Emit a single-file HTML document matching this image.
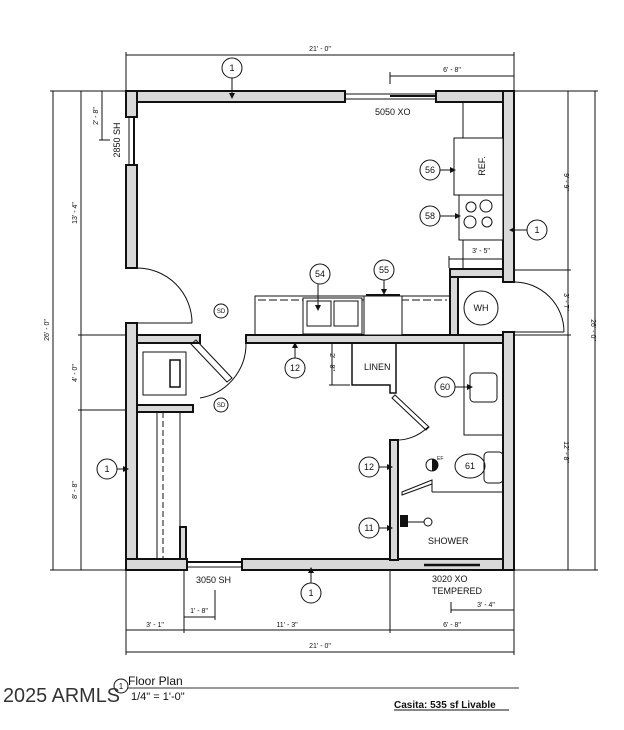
<!DOCTYPE html>
<html><head><style>
html,body{margin:0;padding:0;background:#fff;}
svg{display:block;}
text{font-family:"Liberation Sans",sans-serif;fill:#111;}
</style></head><body>
<svg width="624" height="730" viewBox="0 0 624 730" xmlns="http://www.w3.org/2000/svg">
<defs><marker id="a" markerWidth="6" markerHeight="6" refX="5" refY="3" orient="auto" markerUnits="userSpaceOnUse"><path d="M0 0 L6 3 L0 6 Z" fill="#111"/></marker></defs>
<g stroke="#111" stroke-width="1" fill="none">
<line x1="126" y1="55" x2="514" y2="55"/><line x1="126" y1="52" x2="126" y2="91"/><line x1="514" y1="52" x2="514" y2="91"/>
<line x1="390" y1="76" x2="514" y2="76"/><line x1="390" y1="72" x2="390" y2="84"/>
<line x1="53" y1="91" x2="53" y2="570"/><line x1="50" y1="91" x2="126" y2="91"/><line x1="50" y1="570" x2="126" y2="570"/>
<line x1="81" y1="91" x2="81" y2="570"/><line x1="78" y1="335" x2="126" y2="335"/><line x1="78" y1="410" x2="126" y2="410"/>
<line x1="102" y1="91" x2="102" y2="140"/><line x1="99" y1="140" x2="110" y2="140"/>
<line x1="595" y1="91" x2="595" y2="570"/><line x1="568" y1="91" x2="568" y2="570"/>
<line x1="514" y1="91" x2="598" y2="91"/><line x1="514" y1="570" x2="598" y2="570"/>
<line x1="514" y1="270" x2="571" y2="270"/><line x1="514" y1="335" x2="571" y2="335"/>
<line x1="449" y1="259" x2="514" y2="259"/><line x1="449" y1="256" x2="449" y2="268"/>
<line x1="126" y1="570" x2="126" y2="655"/><line x1="514" y1="570" x2="514" y2="655"/>
<line x1="184" y1="570" x2="184" y2="633"/><line x1="390" y1="570" x2="390" y2="633"/>
<line x1="126" y1="630" x2="514" y2="630"/><line x1="126" y1="652" x2="514" y2="652"/>
<line x1="184" y1="617" x2="215" y2="617"/><line x1="215" y1="590" x2="215" y2="620"/>
<line x1="451" y1="610" x2="514" y2="610"/><line x1="451" y1="602" x2="451" y2="613"/>
<line x1="332" y1="343" x2="332" y2="385"/><line x1="329" y1="385" x2="350" y2="385"/>
</g>
<g fill="#d9d9d9" stroke="#111" stroke-width="2">
<rect x="126" y="91" width="219" height="11"/>
<rect x="436" y="91" width="78" height="11"/>
<rect x="126" y="91" width="11" height="26"/>
<rect x="126" y="165" width="11" height="103"/>
<rect x="126" y="323" width="11" height="247"/>
<rect x="126" y="559" width="61" height="11"/>
<rect x="242" y="559" width="272" height="11"/>
<rect x="503" y="91" width="11" height="191"/>
<rect x="503" y="332" width="11" height="238"/>
<rect x="137" y="335" width="63" height="8"/>
<rect x="137" y="405" width="56" height="7"/>
<rect x="246" y="335" width="257" height="8"/>
<rect x="450" y="269" width="8" height="66"/>
<rect x="450" y="269" width="53" height="8"/>
<rect x="390" y="440" width="8" height="120"/>
<rect x="180" y="527" width="6" height="32"/>
</g>
<g stroke="#111" stroke-width="1" fill="none">
<line x1="345" y1="94" x2="436" y2="94"/><line x1="345" y1="99" x2="436" y2="99"/><line x1="390" y1="96" x2="436" y2="96" stroke-width="2"/>
<line x1="129" y1="117" x2="129" y2="165"/><line x1="134" y1="117" x2="134" y2="165" stroke-width="2"/>
<line x1="187" y1="562" x2="242" y2="562" stroke-width="2"/><line x1="187" y1="567" x2="242" y2="567"/>
<line x1="424" y1="565" x2="480" y2="565" stroke-width="2.5"/>
<path d="M137 268 A55 55 0 0 1 192 323"/><line x1="137" y1="323" x2="192" y2="323"/>
<path d="M514 282 A50 50 0 0 1 564 332"/><line x1="514" y1="332" x2="564" y2="332"/>
<path d="M246 343 A55 55 0 0 1 200 398"/>
<path d="M196 340 L232 378 L227 382 L191 344 Z"/>
<path d="M393 440 A45 45 0 0 0 428 427"/>
<path d="M395 395 L429 427 L426 430 L392 398 Z"/>
<path d="M402 492 L432 480 L432 484 L402 495 Z"/>
<line x1="432" y1="492" x2="503" y2="492"/><line x1="432" y1="480" x2="432" y2="492"/>
<line x1="157" y1="412" x2="157" y2="559"/><line x1="163" y1="412" x2="163" y2="559" stroke-dasharray="6,3"/>
<line x1="180" y1="412" x2="180" y2="527"/>
<rect x="143" y="352" width="43" height="43"/><rect x="170" y="360" width="10" height="27" stroke-width="1.5"/>
<rect x="255" y="296" width="195" height="39"/>
<line x1="258" y1="300" x2="447" y2="300" stroke-dasharray="8,3"/>
<rect x="303" y="298" width="59" height="36" fill="#fff"/>
<rect x="307" y="301" width="24" height="25"/><rect x="334" y="301" width="24" height="25"/>
<rect x="364" y="296" width="38" height="39" fill="#fff"/><line x1="366" y1="295" x2="400" y2="295" stroke-width="2"/>
<rect x="463" y="102" width="40" height="167"/>
<rect x="454" y="138" width="49" height="57" fill="#fff"/>
<rect x="459" y="195" width="44" height="45" fill="#fff"/>
<circle cx="471" cy="207" r="5"/><circle cx="486" cy="206" r="6"/><circle cx="470" cy="222" r="6"/><circle cx="487" cy="222" r="5"/>
<circle cx="481" cy="308" r="17"/>
<path d="M352 343 L352 385 L390 385 L390 393 L396 393 L396 343" stroke-width="1.5"/>
<rect x="464" y="343" width="39" height="92"/>
<rect x="470" y="373" width="27" height="29" rx="4"/>
<rect x="484" y="452" width="19" height="31" rx="4"/>
<ellipse cx="470" cy="466" rx="15" ry="12"/>
<circle cx="428" cy="522" r="4"/><line x1="405" y1="522" x2="424" y2="522"/>
<circle cx="232" cy="68" r="10"/><line x1="232" y1="78" x2="232" y2="98" marker-end="url(#a)"/>
<circle cx="430" cy="170" r="10"/><line x1="440" y1="170" x2="455" y2="170" marker-end="url(#a)"/>
<circle cx="430" cy="216" r="10"/><line x1="440" y1="216" x2="460" y2="216" marker-end="url(#a)"/>
<circle cx="537" cy="230" r="10"/><line x1="527" y1="230" x2="510" y2="230" marker-end="url(#a)"/>
<circle cx="320" cy="274" r="10"/><line x1="318" y1="284" x2="318" y2="310" marker-end="url(#a)"/>
<circle cx="384" cy="270" r="10"/><line x1="384" y1="280" x2="384" y2="294" marker-end="url(#a)"/>
<circle cx="295" cy="368" r="10"/><line x1="295" y1="358" x2="295" y2="343" marker-end="url(#a)"/>
<circle cx="445" cy="387" r="10"/><line x1="455" y1="387" x2="472" y2="387" marker-end="url(#a)"/>
<circle cx="369" cy="467" r="10"/><line x1="379" y1="467" x2="392" y2="467" marker-end="url(#a)"/>
<circle cx="369" cy="528" r="10"/><line x1="379" y1="528" x2="392" y2="528" marker-end="url(#a)"/>
<circle cx="107" cy="469" r="10"/><line x1="117" y1="469" x2="128" y2="469" marker-end="url(#a)"/>
<circle cx="311" cy="593" r="10"/><line x1="311" y1="583" x2="311" y2="568" marker-end="url(#a)"/>
<circle cx="221" cy="311" r="7"/><circle cx="221" cy="405" r="7"/>
<circle cx="432" cy="465" r="6"/>
<circle cx="121" cy="686" r="7"/>
</g>
<path d="M432 459 A6 6 0 0 1 432 471 Z" fill="#111"/>
<rect x="400" y="515" width="8" height="12" fill="#111"/>
<g fill="#111" font-size="9">
<text x="232" y="71" text-anchor="middle">1</text>
<text x="430" y="173" text-anchor="middle">56</text>
<text x="430" y="219" text-anchor="middle">58</text>
<text x="537" y="233" text-anchor="middle">1</text>
<text x="320" y="277" text-anchor="middle">54</text>
<text x="384" y="273" text-anchor="middle">55</text>
<text x="295" y="371" text-anchor="middle">12</text>
<text x="445" y="390" text-anchor="middle">60</text>
<text x="369" y="470" text-anchor="middle">12</text>
<text x="369" y="531" text-anchor="middle">11</text>
<text x="107" y="472" text-anchor="middle">1</text>
<text x="311" y="596" text-anchor="middle">1</text>
<text x="470" y="469" text-anchor="middle">61</text>
<text x="481" y="311" text-anchor="middle">WH</text>
<text x="221" y="313" text-anchor="middle" font-size="6">SD</text>
<text x="221" y="407" text-anchor="middle" font-size="6">SD</text>
<text x="437" y="460" font-size="5">EF</text>
</g>
<g font-size="8">
<text x="320" y="51" text-anchor="middle" font-size="7">21' - 0"</text>
<text x="452" y="72" text-anchor="middle" font-size="7">6' - 8"</text>
<text x="375" y="115" font-size="9">5050 XO</text>
<text x="364" y="370" font-size="9">LINEN</text>
<text x="428" y="544" font-size="9">SHOWER</text>
<text x="196" y="583" font-size="9">3050 SH</text>
<text x="432" y="582" font-size="9">3020 XO</text>
<text x="432" y="594" font-size="9">TEMPERED</text>
<text x="199" y="613" text-anchor="middle" font-size="7">1' - 8"</text>
<text x="486" y="607" text-anchor="middle" font-size="7">3' - 4"</text>
<text x="155" y="627" text-anchor="middle" font-size="7">3' - 1"</text>
<text x="287" y="627" text-anchor="middle" font-size="7">11' - 3"</text>
<text x="452" y="627" text-anchor="middle" font-size="7">6' - 8"</text>
<text x="320" y="648" text-anchor="middle" font-size="7">21' - 0"</text>
<text x="481" y="253" text-anchor="middle" font-size="7">3' - 5"</text>
<text transform="translate(485,166) rotate(-90)" text-anchor="middle" font-size="9">REF.</text>
<text transform="translate(120,140) rotate(-90)" text-anchor="middle" font-size="9">2850 SH</text>
<text transform="translate(98,116) rotate(-90)" text-anchor="middle" font-size="7">2' - 8"</text>
<text transform="translate(77,213) rotate(-90)" text-anchor="middle" font-size="7">13' - 4"</text>
<text transform="translate(49,330) rotate(-90)" text-anchor="middle" font-size="7">26' - 0"</text>
<text transform="translate(77,373) rotate(-90)" text-anchor="middle" font-size="7">4' - 0"</text>
<text transform="translate(77,490) rotate(-90)" text-anchor="middle" font-size="7">8' - 8"</text>
<text transform="translate(330,362) rotate(90)" text-anchor="middle" font-size="7">2' - 8"</text>
<text transform="translate(564,182) rotate(90)" text-anchor="middle" font-size="7">9' - 9"</text>
<text transform="translate(564,302) rotate(90)" text-anchor="middle" font-size="7">3' - 7"</text>
<text transform="translate(591,330) rotate(90)" text-anchor="middle" font-size="7">26' - 0"</text>
<text transform="translate(564,452) rotate(90)" text-anchor="middle" font-size="7">12' - 8"</text>
</g>
<text x="3" y="702" font-size="20" textLength="117" lengthAdjust="spacingAndGlyphs" style="fill:#333">2025 ARMLS</text>
<text x="121" y="689" font-size="8" text-anchor="middle">1</text>
<text x="128" y="685" font-size="12">Floor Plan</text>
<line x1="128" y1="688" x2="519" y2="688" stroke="#333" stroke-width="1"/>
<text x="131" y="700" font-size="11">1/4" = 1'-0"</text>
<text x="394" y="708" font-size="10" font-weight="bold">Casita: 535 sf Livable</text>
<line x1="394" y1="710" x2="509" y2="710" stroke="#111" stroke-width="1"/>
</svg>
</body></html>
